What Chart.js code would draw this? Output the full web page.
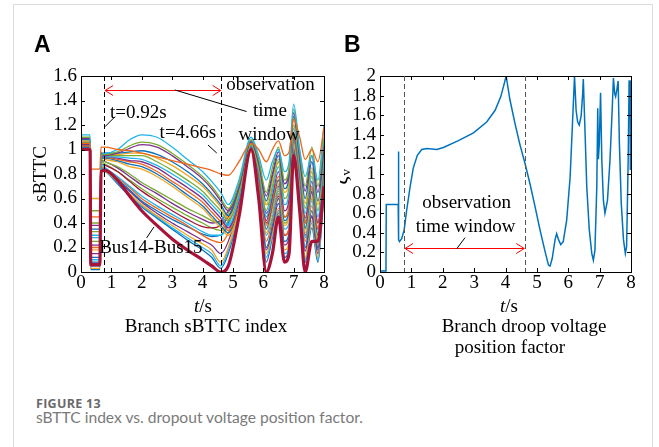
<!DOCTYPE html>
<html>
<head>
<meta charset="utf-8">
<script src="https://cdn.jsdelivr.net/npm/chart.js@4"></script>
<style>
  body { margin: 0; background: #fff; width: 659px; height: 447px; overflow: hidden; position: relative; }
  .card { position: absolute; left: 13px; top: 4px; width: 638px; height: 470px; border: 1px solid #dcdcdc; }
  canvas { position: absolute; top: 0; }
  #cA { left: 0; }
  #cB { left: 340px; }
  .lab { position: absolute; top: 31px; font: bold 23px "Liberation Sans", Arial, sans-serif; color: #000; }
  .fig { position: absolute; left: 36px; top: 395px; font: bold 12.5px "Open Sans", sans-serif; letter-spacing: 0.3px; color: #6a6a6a; }
  .cap { position: absolute; left: 36px; top: 408px; font: 15.6px Lato, sans-serif; color: #7a7a7a; }
</style>
</head>
<body>
<div class="card"></div>
<canvas id="cA" width="340" height="370"></canvas>
<canvas id="cB" width="319" height="370"></canvas>
<div class="lab" style="left:34px">A</div>
<div class="lab" style="left:344px">B</div>
<div class="fig">FIGURE 13</div>
<div class="cap">sBTTC index vs. dropout voltage position factor.</div>
<script>
// panel A: branch sBTTC curves, sampled at tA (s)
const tA = [0, 0.3, 0.32, 0.62, 0.66, 0.8, 1.2, 1.6, 2.0, 2.5, 3.0, 3.5, 4.0, 4.3, 4.6, 4.85, 5.2, 5.6, 5.85, 6.1, 6.3, 6.5, 6.7, 6.85, 7.0, 7.2, 7.38, 7.6, 7.8, 8];

const sA01 = [1.05, 1.05, 0.84, 0.84, 1.02, 1.02, 1.0, 0.99, 0.97, 0.94, 0.91, 0.88, 0.85, 0.83, 0.8, 0.79, 0.9, 1.05, 1.0, 0.9, 1.0, 1.07, 0.95, 0.98, 1.25, 1.1, 0.92, 1.0, 0.9, 1.18];
const sA02 = [1.12, 1.12, 0.3, 0.3, 0.95, 0.97, 1.0, 1.08, 1.12, 1.1, 1.02, 0.92, 0.82, 0.74, 0.65, 0.55, 0.75, 1.1, 0.95, 0.75, 0.9, 1.0, 0.82, 0.9, 1.37, 1.0, 0.78, 0.95, 0.75, 1.2];
const sA03 = [1.1, 1.1, 0.25, 0.25, 0.95, 0.96, 0.98, 1.03, 1.06, 1.04, 0.97, 0.88, 0.78, 0.7, 0.6, 0.52, 0.72, 1.08, 0.92, 0.65, 0.85, 1.02, 0.75, 0.85, 1.33, 0.98, 0.7, 1.02, 0.7, 1.1];
const sA04 = [1.09, 1.09, 0.22, 0.22, 0.95, 0.95, 0.97, 1.01, 1.04, 1.02, 0.95, 0.86, 0.76, 0.68, 0.58, 0.5, 0.7, 1.07, 0.9, 0.62, 0.8, 0.98, 0.72, 0.82, 1.3, 0.95, 0.66, 0.95, 0.65, 1.05];
const sA05 = [1.08, 1.08, 0.35, 0.35, 0.97, 0.97, 0.97, 0.98, 0.99, 0.96, 0.9, 0.82, 0.72, 0.64, 0.55, 0.46, 0.68, 1.06, 0.88, 0.58, 0.78, 0.95, 0.68, 0.78, 1.27, 0.92, 0.6, 0.9, 0.58, 1.0];
const sA06 = [1.07, 1.07, 0.18, 0.18, 0.96, 0.96, 0.96, 0.97, 0.97, 0.93, 0.87, 0.79, 0.7, 0.62, 0.53, 0.44, 0.66, 1.05, 0.86, 0.55, 0.74, 0.92, 0.65, 0.74, 1.24, 0.9, 0.56, 0.85, 0.55, 0.98];
const sA07 = [1.06, 1.06, 0.4, 0.4, 0.97, 0.95, 0.95, 0.95, 0.95, 0.9, 0.83, 0.75, 0.66, 0.58, 0.5, 0.42, 0.64, 1.04, 0.84, 0.5, 0.7, 0.9, 0.6, 0.7, 1.2, 0.87, 0.52, 0.82, 0.5, 0.95];
const sA08 = [1.05, 1.05, 0.28, 0.28, 0.95, 0.94, 0.94, 0.93, 0.92, 0.87, 0.8, 0.72, 0.63, 0.55, 0.47, 0.38, 0.6, 1.03, 0.82, 0.45, 0.66, 0.86, 0.55, 0.65, 1.17, 0.84, 0.48, 0.78, 0.45, 0.92];
const sA09 = [1.04, 1.04, 0.15, 0.15, 0.94, 0.94, 0.93, 0.91, 0.9, 0.85, 0.77, 0.69, 0.6, 0.52, 0.44, 0.36, 0.58, 1.02, 0.8, 0.42, 0.62, 0.82, 0.5, 0.6, 1.14, 0.82, 0.44, 0.74, 0.4, 0.9];
const sA10 = [1.03, 1.03, 0.45, 0.45, 0.96, 0.94, 0.92, 0.9, 0.88, 0.82, 0.74, 0.66, 0.57, 0.49, 0.41, 0.34, 0.56, 1.01, 0.78, 0.38, 0.58, 0.78, 0.45, 0.55, 1.1, 0.8, 0.4, 0.7, 0.35, 0.88];
const sA11 = [1.02, 1.02, 0.12, 0.12, 0.93, 0.93, 0.91, 0.88, 0.86, 0.8, 0.72, 0.63, 0.54, 0.46, 0.38, 0.32, 0.55, 1.0, 0.76, 0.35, 0.55, 0.75, 0.42, 0.5, 1.08, 0.78, 0.36, 0.66, 0.3, 0.85];
const sA12 = [1.01, 1.01, 0.6, 0.6, 0.94, 0.92, 0.9, 0.86, 0.84, 0.78, 0.7, 0.61, 0.52, 0.44, 0.36, 0.3, 0.52, 0.98, 0.74, 0.32, 0.5, 0.72, 0.38, 0.46, 1.05, 0.75, 0.32, 0.62, 0.26, 0.82];
const sA13 = [1.0, 1.0, 0.1, 0.1, 0.88, 0.85, 0.78, 0.7, 0.62, 0.54, 0.47, 0.4, 0.33, 0.3, 0.3, 0.38, 0.65, 1.05, 0.8, 0.3, 0.45, 0.68, 0.35, 0.4, 1.05, 0.7, 0.28, 0.58, 0.25, 0.8];
const sA14 = [1.0, 1.0, 0.2, 0.2, 0.86, 0.84, 0.77, 0.69, 0.6, 0.52, 0.45, 0.38, 0.3, 0.26, 0.24, 0.32, 0.6, 1.04, 0.78, 0.25, 0.42, 0.64, 0.3, 0.36, 1.02, 0.68, 0.25, 0.54, 0.22, 0.78];
const sA15 = [1.01, 1.01, 0.08, 0.08, 0.85, 0.84, 0.76, 0.67, 0.58, 0.5, 0.43, 0.37, 0.31, 0.29, 0.3, 0.4, 0.63, 1.06, 0.8, 0.2, 0.38, 0.6, 0.25, 0.32, 1.0, 0.64, 0.2, 0.5, 0.18, 0.75];
const sA16 = [1.02, 1.02, 0.05, 0.05, 0.84, 0.83, 0.75, 0.66, 0.57, 0.48, 0.4, 0.33, 0.26, 0.22, 0.15, 0.25, 0.55, 1.03, 0.75, 0.18, 0.35, 0.56, 0.22, 0.28, 0.98, 0.62, 0.17, 0.46, 0.15, 0.72];
const sA17 = [1.0, 1.0, 0.07, 0.07, 0.88, 0.87, 0.82, 0.74, 0.66, 0.58, 0.5, 0.43, 0.37, 0.36, 0.38, 0.45, 0.66, 1.02, 0.8, 0.4, 0.5, 0.62, 0.3, 0.35, 1.0, 0.7, 0.3, 0.45, 0.2, 0.7];
const sA18 = [1.03, 1.03, 0.33, 0.33, 0.9, 0.88, 0.82, 0.75, 0.68, 0.6, 0.53, 0.46, 0.4, 0.36, 0.34, 0.42, 0.64, 1.04, 0.82, 0.45, 0.52, 0.66, 0.4, 0.45, 1.06, 0.75, 0.35, 0.6, 0.3, 0.85];
const sA19 = [1.02, 1.02, 0.03, 0.03, 0.83, 0.82, 0.74, 0.64, 0.55, 0.46, 0.38, 0.3, 0.23, 0.18, 0.08, 0.2, 0.52, 1.02, 0.72, 0.15, 0.32, 0.52, 0.18, 0.25, 0.97, 0.6, 0.12, 0.42, 0.12, 0.7];
const sA20 = [1.03, 1.03, 0.05, 0.05, 0.83, 0.82, 0.73, 0.63, 0.54, 0.45, 0.36, 0.28, 0.2, 0.15, 0.05, 0.18, 0.5, 1.01, 0.7, 0.12, 0.3, 0.5, 0.15, 0.22, 0.96, 0.58, 0.1, 0.4, 0.1, 0.68];
const sA21 = [1.04, 1.04, 0.02, 0.02, 0.83, 0.82, 0.72, 0.62, 0.53, 0.44, 0.35, 0.26, 0.18, 0.12, 0.03, 0.15, 0.48, 1.0, 0.68, 0.08, 0.28, 0.48, 0.12, 0.2, 0.95, 0.55, 0.08, 0.36, 0.08, 0.66];
const sA22 = [1.05, 1.05, 0.5, 0.5, 0.92, 0.9, 0.86, 0.8, 0.73, 0.66, 0.59, 0.52, 0.46, 0.42, 0.4, 0.48, 0.7, 1.05, 0.85, 0.55, 0.6, 0.75, 0.45, 0.52, 1.12, 0.8, 0.42, 0.68, 0.4, 0.9];
const sA23 = [1.06, 1.06, 0.38, 0.38, 0.91, 0.9, 0.85, 0.78, 0.71, 0.64, 0.56, 0.49, 0.43, 0.4, 0.42, 0.5, 0.68, 1.04, 0.84, 0.48, 0.58, 0.7, 0.45, 0.5, 1.1, 0.78, 0.4, 0.65, 0.35, 0.88];
// Bus14-Bus15 (thick line)
const sBus1415 = [1.0, 1.0, 0.06, 0.06, 0.82, 0.83, 0.75, 0.62, 0.5, 0.38, 0.27, 0.18, 0.1, 0.05, 0.0, 0.05, 0.45, 1.0, 0.6, 0.0, 0.15, 0.45, 0.08, 0.15, 0.95, 0.5, 0.0, 0.25, 0.25, 0.7];

// panel B: droop voltage position factor
const tB = [0, 0.19, 0.2, 0.58, 0.585, 0.6, 0.62, 0.69, 0.77, 0.85, 0.96, 1.06, 1.19, 1.33, 1.49, 1.81, 2.02, 2.5, 2.98, 3.4, 3.67, 3.85, 3.95, 4.02, 4.14, 4.3, 4.46, 4.62, 4.78, 4.94, 5.1, 5.26, 5.37, 5.42, 5.49, 5.58, 5.63, 5.69, 5.76, 5.84, 5.95, 6.06, 6.13, 6.2, 6.25, 6.3, 6.35, 6.41, 6.46, 6.48, 6.54, 6.59, 6.67, 6.75, 6.8, 6.85, 6.91, 6.94, 6.96, 6.99, 7.03, 7.07, 7.12, 7.17, 7.25, 7.33, 7.4, 7.44, 7.48, 7.51, 7.55, 7.59, 7.63, 7.69, 7.76, 7.82, 7.86, 7.91, 7.94, 7.97, 7.98];
const zetaV = [0.01, 0.01, 0.69, 0.69, 1.23, 0.33, 0.31, 0.34, 0.43, 0.63, 0.87, 1.06, 1.19, 1.25, 1.26, 1.25, 1.27, 1.34, 1.42, 1.53, 1.65, 1.79, 1.91, 2.0, 1.76, 1.52, 1.3, 1.11, 0.9, 0.67, 0.43, 0.21, 0.07, 0.06, 0.14, 0.33, 0.39, 0.33, 0.28, 0.31, 0.53, 0.97, 1.48, 2.0, 1.65, 1.53, 1.5, 1.59, 1.82, 1.97, 1.38, 0.87, 0.43, 0.19, 0.12, 0.22, 0.87, 1.67, 1.15, 1.31, 1.83, 1.14, 0.73, 0.6, 0.73, 1.14, 1.65, 1.98, 1.82, 1.79, 1.86, 1.95, 1.31, 0.7, 0.33, 0.19, 0.26, 1.14, 1.95, 1.95, 1.04];

const windowA = [0.76, 4.6];   // dashed markers, panel A
const windowB = [0.765, 4.63]; // dashed markers, panel B

const cyan = '#1fb4ee', orange = '#f0661a', yellow = '#f2a51e', purple = '#7e2f8e',
      green = '#77ac30', blue = '#0b72bd', crimson = '#a8133a';
const curvesA = [
  [sA01, orange], [sA02, cyan], [sA03, green], [sA04, purple], [sA05, blue], [sA06, yellow],
  [sA07, green], [sA08, cyan], [sA09, purple], [sA10, orange], [sA11, blue], [sA12, yellow],
  [sA13, cyan], [sA14, orange], [sA15, blue], [sA16, purple], [sA17, crimson], [sA18, green],
  [sA19, yellow], [sA20, cyan], [sA21, blue], [sA22, green], [sA23, purple]
];

const SERIF = '"Liberation Serif", "Times New Roman", serif';
Chart.defaults.font.family = SERIF;
Chart.defaults.color = '#000';

function pts(t, v) { return t.map((x, i) => ({ x: x, y: v[i] })); }

function scaleOpts(max, yWidth) {
  return {
    x: {
      type: 'linear', min: 0, max: 8,
      grid: { display: false, drawTicks: false }, border: { display: false },
      ticks: { stepSize: 1, autoSkip: false, maxRotation: 0, padding: 0, font: { size: 19 }, color: '#000' },
      afterFit: s => { s.height = 98; }
    },
    y: {
      min: 0, max: max,
      grid: { display: false, drawTicks: false }, border: { display: false },
      ticks: {
        stepSize: 0.2, autoSkip: false, padding: 4, font: { size: 19 }, color: '#000',
        callback: v => String(+v.toFixed(1))
      },
      afterFit: s => { s.width = yWidth; }
    }
  };
}

// text with italic first part, e.g. "t" + "/s"
function mixText(ctx, parts, cx, cy, size) {
  let w = 0;
  parts.forEach(p => { ctx.font = (p[1] ? 'italic ' : '') + size + 'px ' + SERIF; w += ctx.measureText(p[0]).width; });
  let x = cx - w / 2;
  ctx.textAlign = 'left'; ctx.textBaseline = 'middle';
  parts.forEach(p => {
    ctx.font = (p[1] ? 'italic ' : '') + size + 'px ' + SERIF;
    ctx.fillText(p[0], x, cy);
    x += ctx.measureText(p[0]).width;
  });
}

function decor(extra) {
  return {
    id: 'decor',
    afterDraw(chart) {
      const { ctx, chartArea: a, scales: { x, y } } = chart;
      const X = v => x.getPixelForValue(v), Y = v => y.getPixelForValue(v);
      ctx.save();
      ctx.strokeStyle = '#000'; ctx.lineWidth = 1;
      ctx.strokeRect(a.left + 0.5, a.top + 0.5, a.right - a.left, a.bottom - a.top);
      ctx.beginPath();
      x.ticks.forEach(t => {
        const px = Math.round(X(t.value)) + 0.5;
        ctx.moveTo(px, a.bottom); ctx.lineTo(px, a.bottom - 4);
        ctx.moveTo(px, a.top); ctx.lineTo(px, a.top + 4);
      });
      y.ticks.forEach(t => {
        const py = Math.round(Y(t.value)) + 0.5;
        ctx.moveTo(a.left, py); ctx.lineTo(a.left + 4, py);
        ctx.moveTo(a.right, py); ctx.lineTo(a.right - 4, py);
      });
      ctx.stroke();
      extra(ctx, X, Y, a);
      ctx.restore();
    }
  };
}

function dashed(ctx, X, a, t, color) {
  ctx.save();
  ctx.strokeStyle = color; ctx.lineWidth = 1; ctx.setLineDash([5, 3]);
  const px = Math.round(X(t)) + 0.5;
  ctx.beginPath(); ctx.moveTo(px, a.top); ctx.lineTo(px, a.bottom); ctx.stroke();
  ctx.restore();
}

function dblArrow(ctx, x1, x2, yy) {
  ctx.save();
  ctx.strokeStyle = '#ff0000'; ctx.lineWidth = 1;
  ctx.beginPath();
  ctx.moveTo(x1, yy); ctx.lineTo(x2, yy);
  ctx.moveTo(x1 + 8, yy - 5); ctx.lineTo(x1, yy); ctx.lineTo(x1 + 8, yy + 5);
  ctx.moveTo(x2 - 8, yy - 5); ctx.lineTo(x2, yy); ctx.lineTo(x2 - 8, yy + 5);
  ctx.stroke();
  ctx.restore();
}

function seg(ctx, x1, y1, x2, y2) {
  ctx.strokeStyle = '#000'; ctx.lineWidth = 1;
  ctx.beginPath(); ctx.moveTo(x1, y1); ctx.lineTo(x2, y2); ctx.stroke();
}

function label(ctx, s, cx, cy) {
  ctx.font = '19px ' + SERIF; ctx.fillStyle = '#000';
  ctx.textAlign = 'center'; ctx.textBaseline = 'middle';
  ctx.fillText(s, cx, cy);
}

const dsA = curvesA.map(c => ({
  data: pts(tA, c[0]), borderColor: c[1], borderWidth: 1.3,
  pointRadius: 0, cubicInterpolationMode: 'monotone', order: 1
}));
dsA.push({
  data: pts(tA, sBus1415), borderColor: crimson, borderWidth: 3.2,
  pointRadius: 0, cubicInterpolationMode: 'monotone', order: 0
});

new Chart(document.getElementById('cA'), {
  type: 'line',
  data: { datasets: dsA },
  options: {
    responsive: false, animation: false, events: [],
    layout: { padding: { left: 0, right: 16, top: 76, bottom: 0 } },
    plugins: { legend: { display: false }, tooltip: { enabled: false } },
    scales: scaleOpts(1.6, 81)
  },
  plugins: [decor((ctx, X, Y, a) => {
    dashed(ctx, X, a, windowA[0], '#000');
    dashed(ctx, X, a, windowA[1], '#000');
    dblArrow(ctx, X(windowA[0]) + 1, X(windowA[1]), Math.round(Y(1.485)) + 0.5);
    seg(ctx, X(3.09), Y(1.486), X(5.45), Y(1.31));
    seg(ctx, X(0.79), Y(1.186), X(1.12), Y(1.268));
    seg(ctx, X(4.18), Y(1.037), X(4.47), Y(0.971));
    seg(ctx, X(2.16), Y(0.278), X(2.4), Y(0.367));
    label(ctx, 'observation', X(6.24), Y(1.527));
    label(ctx, 'time', X(6.22), Y(1.314));
    label(ctx, 'window', X(6.19), Y(1.118));
    label(ctx, 't=0.92s', X(1.89), Y(1.298));
    label(ctx, 't=4.66s', X(3.52), Y(1.135));
    label(ctx, 'Bus14-Bus15', X(2.3), Y(0.196));
    mixText(ctx, [['t', true], ['/s', false]], 203, 307, 19);
    label(ctx, 'Branch sBTTC index', 206, 327);
    ctx.save();
    ctx.translate(41, (a.top + a.bottom) / 2);
    ctx.rotate(-Math.PI / 2);
    label(ctx, 'sBTTC', 0, 0);
    ctx.restore();
  })]
});

new Chart(document.getElementById('cB'), {
  type: 'line',
  data: {
    datasets: [{
      data: pts(tB, zetaV), borderColor: '#0072bd', borderWidth: 1.5,
      pointRadius: 0, tension: 0
    }]
  },
  options: {
    responsive: false, animation: false, events: [],
    layout: { padding: { left: 0, right: 28, top: 76, bottom: 0 } },
    plugins: { legend: { display: false }, tooltip: { enabled: false } },
    scales: scaleOpts(2, 40)
  },
  plugins: [decor((ctx, X, Y, a) => {
    dashed(ctx, X, a, windowB[0], '#555');
    dashed(ctx, X, a, windowB[1], '#555');
    dblArrow(ctx, X(windowB[0]) + 1, X(windowB[1]) - 1, Math.round(Y(0.242)) + 0.5);
    seg(ctx, X(2.44), Y(0.235), X(2.71), Y(0.35));
    label(ctx, 'observation', X(2.76), Y(0.70));
    label(ctx, 'time window', X(2.73), Y(0.46));
    mixText(ctx, [['t', true], ['/s', false]], 509 - 340, 307, 19);
    label(ctx, 'Branch droop voltage', 524 - 340, 327);
    label(ctx, 'position factor', 510 - 340, 348);
    ctx.save();
    ctx.translate(1, 177);
    ctx.rotate(-Math.PI / 2);
    ctx.fillStyle = '#000';
    ctx.textAlign = 'left'; ctx.textBaseline = 'middle';
    ctx.font = 'italic 22px ' + SERIF;
    const w = ctx.measureText('ζ').width;
    ctx.fillText('ζ', -(w + 6) / 2, 0);
    ctx.font = '13px ' + SERIF;
    ctx.fillText('v', -(w + 6) / 2 + w, 6);
    ctx.restore();
  })]
});
</script>
</body>
</html>
